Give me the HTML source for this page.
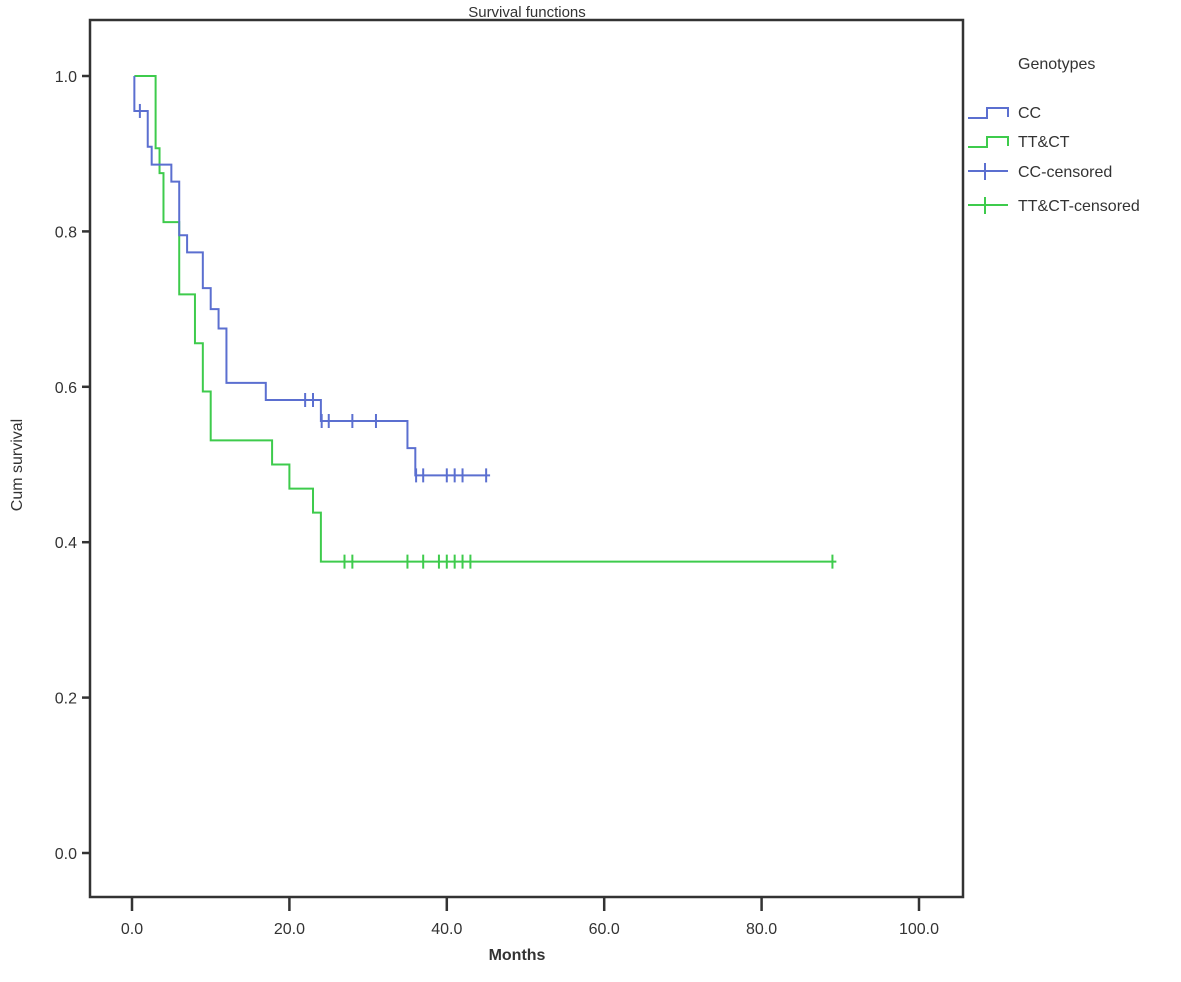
<!DOCTYPE html>
<html><head><meta charset="utf-8"><style>
body{margin:0;background:#fff}
svg text{font-family:"Liberation Sans",sans-serif;fill:#333}
</style></head><body>
<svg width="1181" height="977" viewBox="0 0 1181 977">
<text x="527" y="17" font-size="15" text-anchor="middle">Survival functions</text>
<rect x="90" y="20" width="873" height="877" fill="none" stroke="#333" stroke-width="2.5"/>
<g id="axes"></g>
<g id="series"></g>
<text x="517" y="960" font-size="16" font-weight="bold" text-anchor="middle">Months</text>
<text transform="translate(22,465) rotate(-90)" font-size="16" text-anchor="middle">Cum survival</text>
<g>
<text x="1018" y="69" font-size="16">Genotypes</text>
<g><path d="M968 118H987V108H1008V117" fill="none" stroke="#5b6fd0" stroke-width="2"/><text x="1018" y="118" font-size="16">CC</text></g>
<g><path d="M968 147H987V137H1008V146" fill="none" stroke="#3ecb4c" stroke-width="2"/><text x="1018" y="147" font-size="16">TT&amp;CT</text></g>
<g><path d="M968 171H1008M985 163V180" fill="none" stroke="#5b6fd0" stroke-width="2"/><text x="1018" y="177" font-size="16">CC-censored</text></g>
<g><path d="M968 205H1008M985 197V214" fill="none" stroke="#3ecb4c" stroke-width="2"/><text x="1018" y="211" font-size="16">TT&amp;CT-censored</text></g>
</g>
</svg>
<script>
const xTicks=[0,20,40,60,80,100];
const yTicks=[0,0.2,0.4,0.6,0.8,1.0];
const ccTimes=[0.3,2.0,2.5,5.0,6.0,7.0,9.0,10.0,11.0,12.0,17.0,24.0,35.0,36.0];
const ccSurv=[0.955,0.909,0.886,0.864,0.795,0.773,0.727,0.700,0.675,0.605,0.583,0.556,0.521,0.486];
const ccCensored=[1.0,22.0,23.0,24.1,25.0,28.0,31.0,36.1,37.0,40.0,41.0,42.0,45.0];
const ccEnd=45.5;
const ttTimes=[3.0,3.5,4.0,6.0,8.0,9.0,10.0,17.8,20.0,23.0,24.0];
const ttSurv=[0.907,0.875,0.812,0.719,0.656,0.594,0.531,0.500,0.469,0.438,0.375];
const ttCensored=[27.0,28.0,35.0,37.0,39.0,40.0,41.0,42.0,43.0,89.0];
const ttEnd=89.5;
const ttStart=0.3;
const X=m=>132+m*7.87, Y=s=>853-s*777;
const NS='http://www.w3.org/2000/svg';
const ax=document.getElementById('axes'), se=document.getElementById('series');
function mk(tag,attrs,parent){const e=document.createElementNS(NS,tag);for(const k in attrs)e.setAttribute(k,attrs[k]);parent.appendChild(e);return e;}
xTicks.forEach(t=>{
 const l=mk('line',{x1:X(t),x2:X(t),y1:897,y2:911,stroke:'#333','stroke-width':2.5},ax);
 
 
 const tx=mk('text',{x:X(t),y:934,'font-size':16,'text-anchor':'middle'},ax);tx.textContent=t.toFixed(1);
 
 
});
yTicks.forEach(t=>{
 const l=mk('line',{x1:82,x2:90,y1:Y(t),y2:Y(t),stroke:'#333','stroke-width':2.5},ax);
 
 
 const tx=mk('text',{x:77,y:Y(t)+6,'font-size':16,'text-anchor':'end'},ax);tx.textContent=t.toFixed(1);
 
 
});
function survAt(times,surv,t){let s=1;for(let i=0;i<times.length;i++)if(times[i]<=t)s=surv[i];return s;}
function curve(times,surv,start,end,cens,color,name){
 let d='M'+X(start)+' '+Y(1);
 times.forEach((t,i)=>{d+='H'+X(t)+'V'+Y(surv[i]);});
 d+='H'+X(end);
 const p=mk('path',{d:d,fill:'none',stroke:color,'stroke-width':2},se);
 
 
 cens.forEach(c=>{
  const y=Y(survAt(times,surv,c));
  const m=mk('line',{x1:X(c),x2:X(c),y1:y-7,y2:y+7,stroke:color,'stroke-width':2},se);
  
  
 });
}
curve(ttTimes,ttSurv,ttStart,ttEnd,ttCensored,'#3ecb4c','ttct');
curve(ccTimes,ccSurv,0.3,ccEnd,ccCensored,'#5b6fd0','cc');
</script>
</body></html>
